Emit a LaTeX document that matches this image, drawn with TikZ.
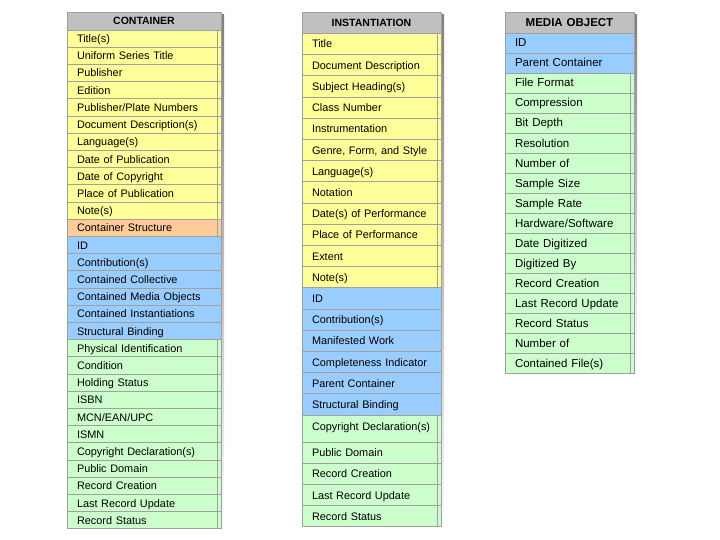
\documentclass[tikz,border=0pt]{standalone}
\usepackage{fontspec}
\setmainfont{Liberation Sans}
\usetikzlibrary{backgrounds}
\definecolor{rowY}{HTML}{FFFF99}
\definecolor{rowB}{HTML}{99CCFF}
\definecolor{rowG}{HTML}{CCFFCC}
\definecolor{rowO}{HTML}{FFCC99}
\definecolor{hdr}{HTML}{C0C0C0}
\definecolor{edge}{HTML}{A0A0A0}
\definecolor{shade}{HTML}{AAAAAA}
\begin{document}
\begin{tikzpicture}[x=1bp,y=-1bp,
  cell/.style={draw=edge, line width=0.8bp, rectangle, anchor=north west, outer sep=0pt,
    inner xsep=10bp, inner ysep=0pt, align=left, text height=9.5bp, text depth=1.5bp},
  bevel/.style={path picture={\draw[edge, line width=0.8bp]
    ([xshift=-4bp]path picture bounding box.north east) --
    ([xshift=-4bp]path picture bounding box.south east);}},
  ycell/.style={cell, fill=rowY, bevel},
  ocell/.style={cell, fill=rowO, bevel},
  gcell/.style={cell, fill=rowG, bevel},
  bcell/.style={cell, fill=rowB},
  hcell/.style={cell, fill=hdr, align=center},
  colC/.style={text width=134bp, minimum height=17.2bp, font=\fontsize{10.9bp}{13bp}\selectfont},
  colI/.style={text width=119bp, minimum height=21.2bp, font=\fontsize{10.9bp}{13bp}\selectfont},
  colM/.style={text width=109bp, minimum height=20bp, font=\fontsize{11.5bp}{13bp}\selectfont},
  hfC/.style={font=\bfseries\fontsize{10.5bp}{12bp}\selectfont},
  hfM/.style={font=\bfseries\fontsize{11.5bp}{13bp}\selectfont}
]
\useasboundingbox (0,0) rectangle (720,540);

% ---------------- CONTAINER ----------------
\node[colC,hcell,hfC,minimum height=18bp] (ch) at (67,12) {CONTAINER};
\node[colC,ycell] (c1) at (ch.south west) {Title(s)};
\node[colC,ycell] (c2) at (c1.south west) {Uniform Series Title};
\node[colC,ycell] (c3) at (c2.south west) {Publisher};
\node[colC,ycell] (c4) at (c3.south west) {Edition};
\node[colC,ycell] (c5) at (c4.south west) {Publisher/Plate Numbers};
\node[colC,ycell] (c6) at (c5.south west) {Document Description(s)};
\node[colC,ycell] (c7) at (c6.south west) {Language(s)};
\node[colC,ycell] (c8) at (c7.south west) {Date of Publication};
\node[colC,ycell] (c9) at (c8.south west) {Date of Copyright};
\node[colC,ycell] (c10) at (c9.south west) {Place of Publication};
\node[colC,ycell] (c11) at (c10.south west) {Note(s)};
\node[colC,ocell] (c12) at (c11.south west) {Container Structure};
\node[colC,bcell] (c13) at (c12.south west) {ID};
\node[colC,bcell] (c14) at (c13.south west) {Contribution(s)};
\node[colC,bcell] (c15) at (c14.south west) {Contained Collective};
\node[colC,bcell] (c16) at (c15.south west) {Contained Media Objects};
\node[colC,bcell] (c17) at (c16.south west) {Contained Instantiations};
\node[colC,bcell] (c18) at (c17.south west) {Structural Binding};
\node[colC,gcell] (c19) at (c18.south west) {Physical Identification};
\node[colC,gcell] (c20) at (c19.south west) {Condition};
\node[colC,gcell] (c21) at (c20.south west) {Holding Status};
\node[colC,gcell] (c22) at (c21.south west) {ISBN};
\node[colC,gcell] (c23) at (c22.south west) {MCN/EAN/UPC};
\node[colC,gcell] (c24) at (c23.south west) {ISMN};
\node[colC,gcell] (c25) at (c24.south west) {Copyright Declaration(s)};
\node[colC,gcell] (c26) at (c25.south west) {Public Domain};
\node[colC,gcell] (c27) at (c26.south west) {Record Creation};
\node[colC,gcell] (c28) at (c27.south west) {Last Record Update};
\node[colC,gcell] (c29) at (c28.south west) {Record Status};

% ---------------- INSTANTIATION ----------------
\node[colI,hcell,hfC,minimum height=21.4bp] (ih) at (302,12) {INSTANTIATION};
\node[colI,ycell] (i1) at (ih.south west) {Title};
\node[colI,ycell] (i2) at (i1.south west) {Document Description};
\node[colI,ycell] (i3) at (i2.south west) {Subject Heading(s)};
\node[colI,ycell] (i4) at (i3.south west) {Class Number};
\node[colI,ycell] (i5) at (i4.south west) {Instrumentation};
\node[colI,ycell] (i6) at (i5.south west) {Genre, Form, and Style};
\node[colI,ycell] (i7) at (i6.south west) {Language(s)};
\node[colI,ycell] (i8) at (i7.south west) {Notation};
\node[colI,ycell] (i9) at (i8.south west) {Date(s) of Performance};
\node[colI,ycell] (i10) at (i9.south west) {Place of Performance};
\node[colI,ycell] (i11) at (i10.south west) {Extent};
\node[colI,ycell] (i12) at (i11.south west) {Note(s)};
\node[colI,bcell] (i13) at (i12.south west) {ID};
\node[colI,bcell] (i14) at (i13.south west) {Contribution(s)};
\node[colI,bcell] (i15) at (i14.south west) {Manifested Work};
\node[colI,bcell] (i16) at (i15.south west) {Completeness Indicator};
\node[colI,bcell] (i17) at (i16.south west) {Parent Container};
\node[colI,bcell] (i18) at (i17.south west) {Structural Binding};
\node[colI,gcell,minimum height=27bp,text depth=6.5bp] (i19) at (i18.south west) {Copyright Declaration(s)};
\node[colI,gcell] (i20) at (i19.south west) {Public Domain};
\node[colI,gcell] (i21) at (i20.south west) {Record Creation};
\node[colI,gcell] (i22) at (i21.south west) {Last Record Update};
\node[colI,gcell] (i23) at (i22.south west) {Record Status};

% ---------------- MEDIA OBJECT ----------------
\node[colM,hcell,hfM,minimum height=21bp] (mh) at (505,12) {MEDIA OBJECT};
\node[colM,bcell] (m1) at (mh.south west) {ID};
\node[colM,bcell] (m2) at (m1.south west) {Parent Container};
\node[colM,gcell] (m3) at (m2.south west) {File Format};
\node[colM,gcell] (m4) at (m3.south west) {Compression};
\node[colM,gcell] (m5) at (m4.south west) {Bit Depth};
\node[colM,gcell] (m6) at (m5.south west) {Resolution};
\node[colM,gcell] (m7) at (m6.south west) {Number of};
\node[colM,gcell] (m8) at (m7.south west) {Sample Size};
\node[colM,gcell] (m9) at (m8.south west) {Sample Rate};
\node[colM,gcell] (m10) at (m9.south west) {Hardware/Software};
\node[colM,gcell] (m11) at (m10.south west) {Date Digitized};
\node[colM,gcell] (m12) at (m11.south west) {Digitized By};
\node[colM,gcell] (m13) at (m12.south west) {Record Creation};
\node[colM,gcell] (m14) at (m13.south west) {Last Record Update};
\node[colM,gcell] (m15) at (m14.south west) {Record Status};
\node[colM,gcell] (m16) at (m15.south west) {Number of};
\node[colM,gcell] (m17) at (m16.south west) {Contained File(s)};

% ---------------- shadows ----------------
\begin{scope}[on background layer]
  \fill[shade] ([shift={(3,3)}]ch.north west) rectangle ([shift={(3,3)}]c29.south east);
  \fill[shade] ([shift={(3,3)}]ih.north west) rectangle ([shift={(3,3)}]i23.south east);
  \fill[shade] ([shift={(3,3)}]mh.north west) rectangle ([shift={(3,3)}]m17.south east);
\end{scope}
\end{tikzpicture}
\end{document}
